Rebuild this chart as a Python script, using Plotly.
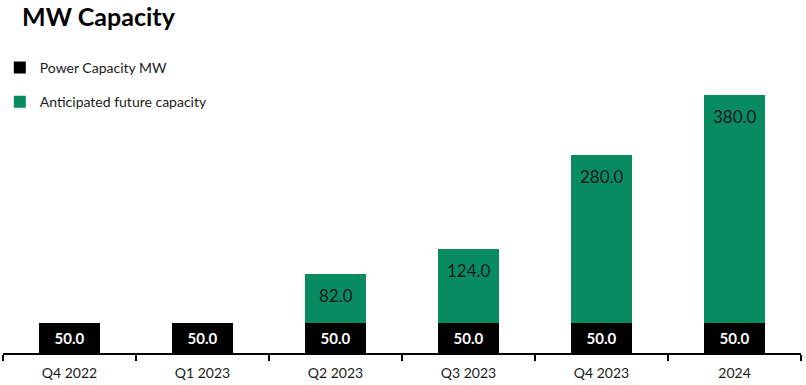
import plotly.graph_objects as go

categories = ["Q4 2022", "Q1 2023", "Q2 2023", "Q3 2023", "Q4 2023", "2024"]
power_capacity = [50.0, 50.0, 50.0, 50.0, 50.0, 50.0]
future_capacity = [None, None, 82.0, 124.0, 280.0, 380.0]

BLACK = "#000000"
GREEN = "#098B62"
FONT = "Lato, 'Open Sans', sans-serif"

W, H = 806, 385
fig = go.Figure()
fig.add_trace(go.Bar(
    x=categories, y=power_capacity, name="Power Capacity MW",
    marker=dict(color=BLACK, line=dict(width=0)),
    text=[f"{v:.1f}" for v in power_capacity],
    textposition="inside", insidetextanchor="middle", textangle=0,
    textfont=dict(color="white", size=15, family=FONT, weight="bold"),
    legendgroup="a",
))
fig.add_trace(go.Bar(
    x=categories, y=future_capacity, name="Anticipated future capacity",
    marker=dict(color=GREEN, line=dict(width=0)),
    legendgroup="b",
))

for i, (b, g) in enumerate(zip(power_capacity, future_capacity)):
    if g is None:
        continue
    fig.add_annotation(
        x=i, y=b + g, text=f"{g:.1f}", showarrow=False,
        yanchor="top", yshift=-9,
        font=dict(size=17, color="#1a1a1a", family=FONT),
    )

fig.update_layout(
    width=W, height=H,
    barmode="stack", bargap=0.54,
    paper_bgcolor="white", plot_bgcolor="white",
    margin=dict(l=3, r=5, t=80, b=32, autoexpand=False),
    font=dict(family=FONT, size=14, color="#1a1a1a"),
    title=dict(text="<b>MW Capacity</b>", x=22 / W, xref="container", xanchor="left",
               y=1 - 17 / H, yref="container", yanchor="middle",
               font=dict(size=25, color="#000000", family=FONT)),
    legend=dict(orientation="v", x=-0.004, xanchor="left",
                y=1 - 52 / H, yref="container", yanchor="top",
                traceorder="grouped", tracegroupgap=13,
                font=dict(size=14, color="#1a1a1a", family=FONT),
                bgcolor="rgba(0,0,0,0)"),
    showlegend=True,
)
fig.update_xaxes(
    type="category", categoryorder="array", categoryarray=categories,
    range=[-0.5, len(categories) - 0.5],
    showline=True, linecolor="black", linewidth=1.5,
    ticks="outside", tickson="boundaries", ticklen=6, tickcolor="black", tickwidth=1.5,
    showgrid=False, zeroline=False, ticklabelstandoff=6,
    tickfont=dict(size=14, color="#1a1a1a", family=FONT),
)
fig.update_yaxes(visible=False, range=[0, 455], showgrid=False, zeroline=False)

fig.write_html("out.html", config={"displayModeBar": False},
               post_script="document.body.style.margin='0';")
